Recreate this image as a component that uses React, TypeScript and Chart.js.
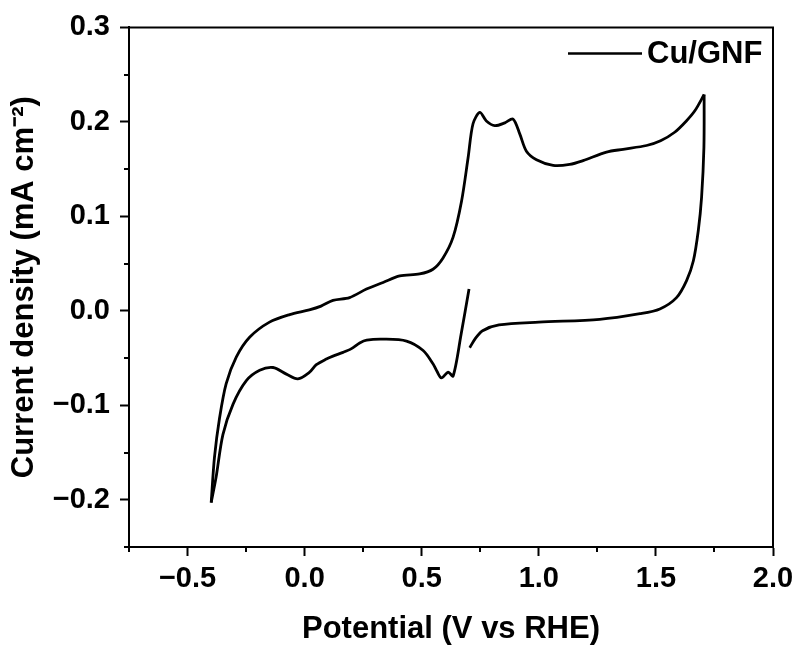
import { useEffect, useRef } from "react";
import { Chart, registerables } from "chart.js";

Chart.register(...registerables);

const SERIES_LABEL = "Cu/GNF";
const X_TITLE = "Potential (V vs RHE)";
const Y_TITLE = "Current density (mA cm\u207B\u00B2)";

// Cathodic sweep: from 0.70 V down to -0.40 V
const cathodicPotential = [0.702, 0.668, 0.634, 0.613, 0.584, 0.565, 0.548, 0.506, 0.435, 0.335, 0.265, 0.235, 0.2, 0.164, 0.121, 0.093, 0.05, 0.021, -0.029, -0.078, -0.135, -0.192, -0.249, -0.306, -0.349, -0.378, -0.399];
const cathodicCurrent = [0.023, -0.025, -0.069, -0.065, -0.071, -0.064, -0.056, -0.042, -0.032, -0.03, -0.031, -0.034, -0.04, -0.044, -0.048, -0.051, -0.057, -0.065, -0.072, -0.067, -0.06, -0.063, -0.074, -0.099, -0.131, -0.176, -0.203];

// Anodic sweep: from -0.40 V up to 1.70 V
const anodicPotential = [-0.399, -0.385, -0.363, -0.335, -0.292, -0.235, -0.15, -0.064, 0.02, 0.07, 0.121, 0.192, 0.264, 0.335, 0.406, 0.491, 0.548, 0.591, 0.634, 0.67, 0.698, 0.719, 0.748, 0.776, 0.812, 0.855, 0.89, 0.919, 0.947, 0.99, 1.061, 1.132, 1.189, 1.289, 1.36, 1.46, 1.52, 1.58, 1.63, 1.667, 1.706];
const anodicCurrent = [-0.203, -0.155, -0.113, -0.077, -0.049, -0.028, -0.012, -0.004, 0.001, 0.005, 0.011, 0.014, 0.023, 0.03, 0.037, 0.039, 0.044, 0.056, 0.078, 0.116, 0.162, 0.198, 0.21, 0.201, 0.196, 0.199, 0.203, 0.187, 0.169, 0.16, 0.154, 0.155, 0.159, 0.168, 0.171, 0.175, 0.18, 0.189, 0.201, 0.212, 0.229];

// Return sweep: from 1.70 V back to 0.70 V
const returnPotential = [1.706, 1.705, 1.695, 1.681, 1.66, 1.631, 1.588, 1.517, 1.432, 1.26, 1.0, 0.83, 0.76, 0.73, 0.705];
const returnCurrent = [0.229, 0.173, 0.12, 0.085, 0.053, 0.032, 0.014, 0.002, -0.003, -0.009, -0.012, -0.015, -0.021, -0.029, -0.039];

const xMajorTicks = [-0.5, 0, 0.5, 1.0, 1.5, 2.0];
const xMinorTicks = [-0.75, -0.25, 0.25, 0.75, 1.25, 1.75];
const yMajorTicks = [-0.2, -0.1, 0, 0.1, 0.2, 0.3];
const yMinorTicks = [-0.25, -0.15, -0.05, 0.05, 0.15, 0.25];

const FONT = "'Liberation Sans', Arial, Helvetica, sans-serif";

const toPoints = (xs: number[], ys: number[]) => xs.map((x, i) => ({ x, y: ys[i] }));
const fmt = (v: number) => {
  const s = Number(v).toFixed(1);
  return s === "-0.0" ? "0.0" : s.replace("-", "\u2212");
};

const framePlugin = {
  id: "frameAndExtras",
  afterDraw(chart: any) {
    const { ctx, chartArea, scales } = chart;
    const { left, right, top, bottom } = chartArea;
    ctx.save();
    ctx.strokeStyle = "#000";
    ctx.lineWidth = 2;
    // top and right frame
    ctx.beginPath();
    ctx.moveTo(left, top);
    ctx.lineTo(right, top);
    ctx.lineTo(right, bottom);
    ctx.stroke();
    // minor ticks
    ctx.beginPath();
    xMinorTicks.forEach((v) => {
      const px = Math.round(scales.x.getPixelForValue(v));
      ctx.moveTo(px, bottom);
      ctx.lineTo(px, bottom + 5);
    });
    yMinorTicks.forEach((v) => {
      const py = Math.round(scales.y.getPixelForValue(v));
      ctx.moveTo(left, py);
      ctx.lineTo(left - 5, py);
    });
    ctx.stroke();
    // legend
    const label = chart.data.datasets[0].label;
    const ly = top + 26;
    ctx.lineWidth = 2.5;
    ctx.beginPath();
    ctx.moveTo(right - 205, ly);
    ctx.lineTo(right - 131, ly);
    ctx.stroke();
    ctx.fillStyle = "#000";
    ctx.font = `bold 31px ${FONT}`;
    ctx.textAlign = "left";
    ctx.textBaseline = "middle";
    ctx.fillText(label, right - 126, ly + 1);
    ctx.restore();
  },
};

export default function App() {
  const canvasRef = useRef<HTMLCanvasElement | null>(null);

  useEffect(() => {
    document.body.style.margin = "0";
    const canvas = canvasRef.current;
    if (!canvas) return;
    const lineStyle = {
      showLine: true,
      borderColor: "#000",
      backgroundColor: "#000",
      borderWidth: 2.8,
      pointRadius: 0,
      tension: 0.3,
      fill: false,
    };
    const tickFont = { family: FONT, size: 29, weight: "bold" as const };
    const titleFont = { family: FONT, size: 31, weight: "bold" as const, lineHeight: 1 };
    const chart = new Chart(canvas, {
      type: "scatter",
      data: {
        datasets: [
          { label: SERIES_LABEL, data: toPoints(cathodicPotential, cathodicCurrent), ...lineStyle },
          { label: SERIES_LABEL, data: toPoints(anodicPotential, anodicCurrent), ...lineStyle },
          { label: SERIES_LABEL, data: toPoints(returnPotential, returnCurrent), ...lineStyle },
        ],
      },
      options: {
        animation: false,
        responsive: false,
        maintainAspectRatio: false,
        layout: { padding: { left: 0, right: 27, top: 27, bottom: 0 } },
        plugins: { legend: { display: false }, tooltip: { enabled: false } },
        scales: {
          x: {
            type: "linear",
            min: -0.75,
            max: 2.0,
            afterBuildTicks: (s: any) => {
              s.ticks = xMajorTicks.map((value) => ({ value }));
            },
            afterFit: (s: any) => {
              s.height = 103;
            },
            grid: { drawOnChartArea: false, drawTicks: true, tickLength: 9, tickWidth: 2, tickColor: "#000" },
            border: { display: true, color: "#000", width: 2 },
            ticks: { color: "#000", font: tickFont, padding: 6, maxRotation: 0, autoSkip: false, callback: (v: any) => fmt(v) },
            title: { display: true, text: X_TITLE, color: "#000", font: titleFont, padding: { top: 0, bottom: 5 } },
          },
          y: {
            type: "linear",
            min: -0.25,
            max: 0.3,
            afterBuildTicks: (s: any) => {
              s.ticks = yMajorTicks.map((value) => ({ value }));
            },
            afterFit: (s: any) => {
              s.width = 129;
            },
            grid: { drawOnChartArea: false, drawTicks: true, tickLength: 9, tickWidth: 2, tickColor: "#000" },
            border: { display: true, color: "#000", width: 2 },
            ticks: { color: "#000", font: tickFont, padding: 10, autoSkip: false, callback: (v: any) => fmt(v) },
            title: { display: true, text: Y_TITLE, color: "#000", font: titleFont, padding: { top: 9, bottom: 0 } },
          },
        },
      },
      plugins: [framePlugin],
    });
    return () => chart.destroy();
  }, []);

  return (
    <div style={{ width: 800, height: 650, background: "#fff" }}>
      <canvas ref={canvasRef} width={800} height={650} style={{ display: "block" }} />
    </div>
  );
}
